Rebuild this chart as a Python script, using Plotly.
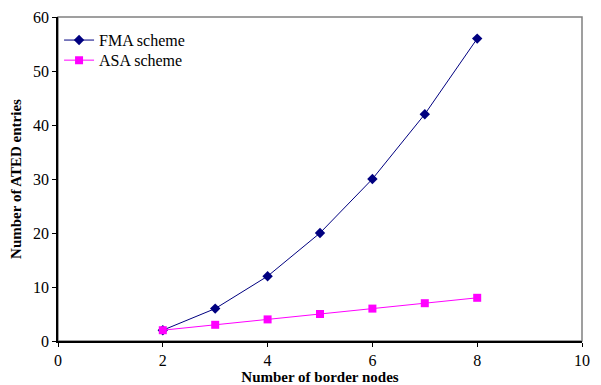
import plotly.graph_objects as go

border_nodes = [2, 3, 4, 5, 6, 7, 8]
fma_entries = [2, 6, 12, 20, 30, 42, 56]
asa_entries = [2, 3, 4, 5, 6, 7, 8]
x_ticks = [0, 2, 4, 6, 8, 10]
y_ticks = [0, 10, 20, 30, 40, 50, 60]

font_family = "Liberation Serif"

fig = go.Figure()
fig.add_trace(go.Scatter(x=border_nodes, y=fma_entries, mode="lines+markers",
                         name="FMA scheme", legend="legend",
                         line=dict(color="#000080", width=1),
                         marker=dict(symbol="diamond", size=8, color="#000080")))
fig.add_trace(go.Scatter(x=border_nodes, y=asa_entries, mode="lines+markers",
                         name="ASA scheme", legend="legend2",
                         line=dict(color="#FF00FF", width=1),
                         marker=dict(symbol="square", size=8, color="#FF00FF")))

fig.add_shape(type="rect", xref="paper", yref="paper", x0=0, y0=0, x1=1, y1=1,
              line=dict(color="#808080", width=1.5), layer="below")

legend_style = dict(xanchor="left", yanchor="top", bgcolor="rgba(0,0,0,0)",
                    font=dict(family=font_family, size=16), itemwidth=30)

fig.update_layout(
    width=593, height=377,
    margin=dict(l=50, r=19, t=9, b=44),
    paper_bgcolor="white", plot_bgcolor="white",
    font=dict(family=font_family, size=15, color="black"),
    showlegend=True,
    legend=dict(x=0.002, y=0.981, **legend_style),
    legend2=dict(x=0.002, y=0.919, **legend_style),
    xaxis=dict(range=[0, 10], tickvals=x_ticks, showgrid=False, zeroline=False,
               showline=True, linecolor="black", linewidth=1.5, automargin=False,
               ticks="outside", ticklen=4, tickcolor="black",
               tickfont=dict(family=font_family, size=16),
               title=dict(text="<b>Number of border nodes</b>",
                          font=dict(family=font_family, size=15), standoff=7)),
    yaxis=dict(range=[0, 60], tickvals=y_ticks, showgrid=False, zeroline=False,
               showline=True, linecolor="black", linewidth=1.5, automargin=False,
               ticks="outside", ticklen=4, tickcolor="black",
               tickfont=dict(family=font_family, size=16),
               title=dict(text="<b>Number of ATED entries</b>",
                          font=dict(family=font_family, size=15), standoff=8)),
)

fig.write_html("out.html")
